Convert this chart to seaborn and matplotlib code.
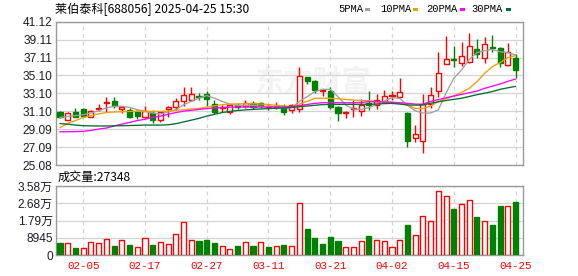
import matplotlib
matplotlib.use('Agg')
import matplotlib.pyplot as plt
from matplotlib.patches import Rectangle
import numpy as np
import pandas as pd
import seaborn as sns

# ---------------- data ----------------
dates = ['01-23', '01-24', '01-27', '02-05', '02-06', '02-07', '02-10', '02-11', '02-12', '02-13',
         '02-14', '02-17', '02-18', '02-19', '02-20', '02-21', '02-24', '02-25', '02-26', '02-27',
         '02-28', '03-03', '03-04', '03-05', '03-06', '03-07', '03-10', '03-11', '03-12', '03-13',
         '03-14', '03-17', '03-18', '03-19', '03-20', '03-21', '03-24', '03-25', '03-26', '03-27',
         '03-28', '03-31', '04-01', '04-02', '04-03', '04-07', '04-08', '04-09', '04-10', '04-11',
         '04-14', '04-15', '04-16', '04-17', '04-18', '04-21', '04-22', '04-23', '04-24', '04-25']

opens = [31.01, 30.15, 31.01, 31.35, 30.45, 31.35, 31.98, 32.28, 31.35, 31.23,
         31.09, 30.41, 30.86, 30.15, 31.38, 31.53, 32.28, 32.32, 32.80, 33.06,
         31.94, 31.42, 31.01, 31.83, 31.65, 31.98, 31.98, 31.53, 31.53, 31.53,
         31.27, 31.31, 34.89, 34.51, 33.32, 33.36, 31.57, 30.90, 31.31, 31.16,
         32.05, 31.79, 32.17, 32.80, 32.73, 30.86, 28.06, 27.80, 31.90, 33.32,
         36.35, 36.91, 36.53, 36.64, 38.06, 37.09, 38.25, 38.14, 36.27, 37.09]
highs = [31.16, 31.01, 31.46, 31.46, 31.27, 31.91, 32.73, 32.73, 31.72, 31.46,
         31.27, 31.72, 31.27, 31.16, 31.65, 32.58, 33.81, 33.81, 33.14, 33.32,
         32.39, 31.83, 31.91, 32.02, 32.35, 32.20, 32.09, 31.91, 32.09, 31.91,
         31.91, 36.07, 34.96, 34.55, 33.62, 33.77, 31.68, 31.16, 32.35, 32.43,
         33.39, 33.02, 33.47, 33.36, 34.78, 31.05, 29.55, 32.99, 33.77, 37.69,
         39.52, 38.40, 38.81, 39.82, 39.15, 39.44, 39.63, 38.30, 38.70, 37.47]
lows = [30.34, 30.08, 30.41, 30.53, 30.45, 31.09, 31.01, 31.46, 30.90, 30.34,
        30.23, 30.34, 29.78, 29.85, 30.41, 31.27, 31.65, 32.20, 32.39, 31.65,
        30.79, 31.01, 30.79, 31.38, 31.46, 31.35, 31.46, 31.27, 31.35, 30.71,
        30.90, 31.04, 34.11, 33.17, 32.80, 31.38, 30.03, 30.30, 30.48, 30.56,
        31.23, 31.31, 32.00, 32.35, 32.65, 27.05, 27.69, 26.45, 31.42, 32.65,
        36.35, 36.08, 36.16, 36.46, 37.02, 36.53, 37.76, 36.08, 36.16, 34.78]
closes = [30.41, 30.86, 30.49, 30.60, 31.16, 31.46, 32.17, 31.65, 31.61, 30.41,
          30.60, 31.09, 30.11, 30.97, 31.53, 32.28, 32.91, 33.03, 32.73, 32.50,
          31.01, 31.53, 31.76, 31.61, 32.02, 31.57, 31.68, 31.72, 31.65, 31.01,
          31.76, 35.03, 34.48, 33.47, 33.43, 31.53, 30.86, 31.01, 31.42, 31.79,
          31.79, 32.35, 32.84, 32.88, 33.21, 27.80, 28.51, 31.94, 32.87, 35.34,
          36.91, 36.80, 37.24, 38.40, 37.54, 38.59, 38.14, 36.53, 37.69, 35.71]

volumes = [6224, 6224, 3631, 3631, 6743, 6224, 8126, 4668, 7780, 5187,
           4150, 8645, 5187, 6743, 5706, 10893, 17117, 7780, 7262, 7780,
           6224, 4495, 3112, 4668, 6743, 4668, 6743, 4150, 4668, 5187,
           4668, 26800, 13486, 8818, 5706, 9337, 7262, 4150, 4150, 7262,
           9855, 7780, 7262, 4150, 7780, 15561, 10374, 20056, 17463, 33024,
           30430, 23860, 26281, 28356, 19711, 17463, 15561, 25416, 25416, 27348]
vol_up = [0, 1, 0, 1, 1, 1, 1, 0, 1, 0,
          1, 1, 0, 1, 1, 1, 1, 1, 0, 0,
          0, 1, 1, 0, 1, 0, 1, 0, 1, 0,
          1, 1, 0, 0, 0, 0, 0, 1, 1, 1,
          0, 1, 1, 1, 1, 0, 1, 1, 1, 1,
          1, 0, 1, 1, 0, 1, 0, 0, 1, 0]

ma5 = [30.41, 30.52, 30.60, 30.71, 30.90, 31.16, 31.46, 31.65, 31.65, 31.53,
       31.27, 31.08, 30.90, 30.79, 31.01, 31.27, 31.83, 32.20, 32.58, 32.85,
       32.55, 32.20, 31.91, 31.76, 31.76, 31.76, 31.65, 31.65, 31.60, 31.46,
       31.50, 32.20, 32.73, 33.29, 33.55, 33.55, 32.73, 31.79, 31.34, 31.30,
       31.50, 31.87, 32.24, 32.61, 32.54, 31.75, 31.15, 30.90, 30.90, 31.25,
       33.15, 34.78, 35.71, 36.90, 37.65, 37.88, 38.02, 37.76, 37.65, 37.40]
ma10 = [29.25, 29.75, 30.05, 30.40, 30.60, 30.80, 30.95, 31.01, 31.05, 31.08,
        31.08, 31.08, 31.08, 31.08, 31.12, 31.20, 31.27, 31.35, 31.42, 31.57,
        31.70, 31.83, 31.90, 31.92, 31.94, 31.94, 31.90, 31.85, 31.76, 31.70,
        31.61, 31.90, 32.20, 32.54, 32.56, 32.54, 32.50, 32.42, 32.35, 32.30,
        32.28, 32.17, 32.12, 32.10, 31.98, 31.79, 31.42, 31.40, 31.68, 32.20,
        32.50, 32.80, 33.20, 33.66, 34.40, 35.34, 36.10, 36.53, 37.10, 37.32]
ma20 = [28.80, 28.80, 28.82, 28.85, 28.95, 29.10, 29.22, 29.45, 29.65, 29.85,
        30.05, 30.20, 30.40, 30.55, 30.75, 30.95, 31.10, 31.20, 31.30, 31.40,
        31.46, 31.50, 31.55, 31.57, 31.57, 31.57, 31.57, 31.57, 31.57, 31.58,
        31.61, 31.72, 31.85, 31.98, 32.05, 32.05, 32.05, 32.05, 32.05, 32.08,
        32.17, 32.15, 32.12, 32.10, 32.05, 31.98, 31.90, 31.87, 32.20, 32.40,
        32.60, 32.80, 32.98, 33.17, 33.35, 33.66, 33.90, 34.15, 34.45, 34.70]
ma30 = [29.72, 29.65, 29.55, 29.48, 29.46, 29.45, 29.45, 29.46, 29.48, 29.50,
        29.52, 29.55, 29.55, 29.55, 29.58, 29.70, 29.90, 30.10, 30.30, 30.55,
        30.75, 30.95, 31.08, 31.18, 31.25, 31.30, 31.35, 31.40, 31.43, 31.46,
        31.52, 31.60, 31.68, 31.76, 31.84, 31.87, 31.87, 31.87, 31.87, 31.88,
        31.88, 31.90, 31.95, 31.98, 31.90, 31.80, 31.78, 31.80, 32.00, 32.15,
        32.30, 32.43, 32.55, 32.75, 32.95, 33.12, 33.30, 33.55, 33.72, 33.88]

price_ticks = [25.08, 27.09, 29.09, 31.10, 33.10, 35.10, 37.11, 39.11, 41.12]
price_tick_labels = ['25.08', '27.09', '29.09', '31.10', '33.10', '35.10', '37.11', '39.11', '41.12']
vol_ticks = [0, 8945, 17890, 26835, 35780]
vol_tick_labels = ['0', '8945', '1.79万', '2.68万', '3.58万']
date_tick_labels = ['02-05', '02-17', '02-27', '03-11', '03-21', '04-02', '04-15', '04-25']
title_text = '莱伯泰科[688056] 2025-04-25 15:30'
vol_title = '成交量:27348'
ma_names = ['5PMA', '10PMA', '20PMA', '30PMA']
ma_colors = ['#a0a0a0', '#f0a000', '#ff00ff', '#006e2e']

# ---------------- style ----------------
sns.set_theme(style='white')
plt.rcParams['font.family'] = ['Liberation Sans', 'Noto Sans CJK SC', 'DejaVu Sans']

RED = '#ff0000'
GREEN = '#008000'
FRAME = '#9a9a9a'
GRID = '#d4d4d4'

W, H = 578, 276
fig = plt.figure(figsize=(W / 100, H / 100), dpi=100)
fig.patch.set_facecolor('white')

ax_l, ax_r = 55.7, 522.5
ax1 = fig.add_axes([ax_l / W, 1 - 165 / H, (ax_r - ax_l) / W, (165 - 21.7) / H])
ax2 = fig.add_axes([ax_l / W, 1 - 255 / H, (ax_r - ax_l) / W, (255 - 186) / H])

n = len(closes)
idx = np.arange(n)
df = pd.DataFrame({'i': idx, 'open': opens, 'high': highs, 'low': lows,
                   'close': closes, 'vol': volumes, 'vup': vol_up,
                   'ma5': ma5, 'ma10': ma10, 'ma20': ma20, 'ma30': ma30})

tick_pos = [dates.index(d) for d in date_tick_labels]
xlim = (-0.56, 59.9)

# watermark
ax1.text(0.55, 0.58, '东方财富', transform=ax1.transAxes, ha='center', va='center',
         fontsize=21, fontweight='bold', color='#f3f3f3', zorder=0,
         family=['Noto Sans CJK SC'])

# candles
bw = 0.66
for r in df.itertuples():
    up = r.close >= r.open
    col = RED if up else GREEN
    ax1.vlines(r.i, r.low, r.high, color=col, lw=1.0, zorder=3)
    bot = min(r.open, r.close)
    h = max(abs(r.close - r.open), 0.04)
    ax1.bar(r.i, h, bottom=bot, width=bw, facecolor='white' if up else GREEN,
            edgecolor=col, linewidth=1.0, zorder=4)

# moving averages
for name, col in zip(['ma5', 'ma10', 'ma20', 'ma30'], ma_colors):
    sns.lineplot(data=df, x='i', y=name, ax=ax1, color=col, lw=0.95, zorder=5,
                 legend=False)

# volume
for r in df.itertuples():
    col = RED if r.vup else GREEN
    ax2.bar(r.i, r.vol, width=bw, facecolor='white' if r.vup else GREEN,
            edgecolor=col, linewidth=1.0, zorder=3)

for ax in (ax1, ax2):
    ax.set_xlim(*xlim)
    ax.set_xlabel('')
    ax.set_ylabel('')
    ax.set_xticks(tick_pos)
    ax.grid(False)
    ax.yaxis.grid(True, color=GRID, lw=0.9, zorder=0)
    ax.xaxis.grid(True, color=GRID, lw=0.9, ls=(0, (3, 3)), zorder=0)
    ax.set_axisbelow(True)
    for s in ax.spines.values():
        s.set_color(FRAME)
        s.set_linewidth(1.0)
    ax.tick_params(length=0)

ax1.set_ylim(price_ticks[0], price_ticks[-1])
ax1.set_yticks(price_ticks)
ax1.set_yticklabels(price_tick_labels)
ax1.tick_params(axis='y', pad=2.2, labelsize=8.6, labelcolor='#1c1c28')
ax1.tick_params(axis='x', labelbottom=False)

ax2.set_ylim(vol_ticks[0], vol_ticks[-1])
ax2.set_yticks(vol_ticks)
ax2.set_yticklabels(vol_tick_labels)
ax2.tick_params(axis='y', pad=2.2, labelsize=8.6, labelcolor='#1c1c28')
ax2.set_xticklabels(date_tick_labels)
ax2.tick_params(axis='x', pad=4.0, labelsize=7.8, labelcolor=RED)
for t in ax2.get_xticklabels():
    t.set_family(['Liberation Mono', 'DejaVu Sans Mono'])

# title
fig.text(55 / W, 1 - 9.5 / H, title_text, ha='left', va='center', fontsize=8.7,
         color='black', family=['Noto Sans CJK SC', 'DejaVu Sans'])
fig.text(58 / W, 1 - 177.5 / H, vol_title, ha='left', va='center', fontsize=8.7,
         color='black', family=['Noto Sans CJK SC', 'DejaVu Sans'])

# MA legend
name_x = [338.3, 380.0, 426.0, 471.7]
sq_x = [365.3, 413.3, 460.0, 506.0]
for nm, col, nx, sx in zip(ma_names, ma_colors, name_x, sq_x):
    fig.text(nx / W, 1 - 9.5 / H, nm, ha='left', va='center', fontsize=7.6,
             color='black', family=['Liberation Mono', 'DejaVu Sans Mono'])
    fig.patches.append(Rectangle((sx / W, 1 - 10.8 / H), 5 / W, 3.3 / H,
                                 transform=fig.transFigure, facecolor=col,
                                 edgecolor='none', figure=fig))

fig.savefig('out.png', dpi=100, facecolor='white')
